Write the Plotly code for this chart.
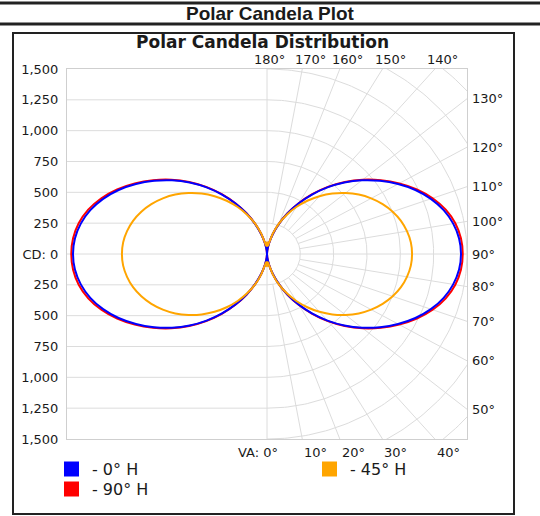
import numpy as np
import plotly.graph_objects as go

# ---------------- data ----------------
va_deg = list(range(0, 181, 5))  # vertical angles 0..180
cd_0h = [0, 29, 88, 166, 258, 362, 472, 588, 705, 820, 930, 1035, 1135, 1228, 1308, 1372, 1418, 1446, 1455,
         1446, 1418, 1372, 1308, 1228, 1135, 1035, 930, 820, 705, 588, 472, 362, 258, 166, 88, 29, 0]
cd_90h = [0, 30, 90, 168, 260, 364, 475, 592, 710, 826, 937, 1043, 1145, 1240, 1322, 1388, 1434, 1460, 1468,
          1460, 1434, 1388, 1322, 1240, 1145, 1043, 937, 826, 710, 592, 475, 364, 260, 168, 90, 30, 0]
cd_45h = [100, 65, 95, 175, 265, 352, 440, 527, 612, 693, 769, 840, 902, 957, 1003, 1040, 1066, 1083, 1088,
          1083, 1066, 1040, 1003, 957, 902, 840, 769, 693, 612, 527, 440, 352, 265, 175, 95, 65, 100]

series = [("- 90° H", cd_90h, "#ff0000"), ("- 0° H", cd_0h, "#0000ff"), ("- 45° H", cd_45h, "#ffa500")]

cd_ticks = [1500, 1250, 1000, 750, 500, 250, 0, -250, -500, -750, -1000, -1250, -1500]
cd_labels = ["1,500", "1,250", "1,000", "750", "500", "250", "CD: 0", "250", "500", "750", "1,000", "1,250", "1,500"]
top_angles = [180, 170, 160, 150, 140]
right_angles = [130, 120, 110, 100, 90, 80, 70, 60, 50]
bottom_angles = [0, 10, 20, 30, 40]
arc_radii = [250, 500, 750, 1000, 1250, 1500, 1750, 2000]
ray_angles = [10, 20, 30, 40, 50, 60, 70, 80, 100, 110, 120, 130, 140, 150, 160, 170]

RMAX = 1500
GRID = "#dcdcdc"
TXT = "#1a1a1a"
FONT = "DejaVu Sans"

fig = go.Figure()

# ---- polar grid (right half) ----
gx, gy = [], []
for r in arc_radii:
    t = np.radians(np.arange(0, 181, 1))
    gx += list(r * np.sin(t)) + [None]
    gy += list(-r * np.cos(t)) + [None]
for a in ray_angles:
    t = np.radians(a)
    gx += [250 * np.sin(t), 2300 * np.sin(t), None]
    gy += [-250 * np.cos(t), -2300 * np.cos(t), None]
fig.add_trace(go.Scatter(x=gx, y=gy, mode="lines", line=dict(color=GRID, width=1),
                         hoverinfo="skip", showlegend=False))

# ---- candela curves ----
for name, cd, col in series:
    t = np.radians(va_deg)
    cdv = np.array(cd, dtype=float)
    xr = cdv * np.sin(t)
    yr = -cdv * np.cos(t)
    x = list(xr) + list(-xr[::-1])
    y = list(yr) + list(yr[::-1])
    fig.add_trace(go.Scatter(x=x, y=y, mode="lines", name=name,
                             line=dict(color=col, width=2, shape="spline", smoothing=0.8),
                             showlegend=False))

shapes = []
# horizontal grid lines in the left half
for v in cd_ticks:
    if abs(v) < RMAX and v != 0:
        shapes.append(dict(type="line", xref="x", yref="y", x0=-RMAX, x1=0, y0=v, y1=v,
                           line=dict(color=GRID, width=1), layer="below"))
shapes.append(dict(type="line", xref="x", yref="y", x0=-RMAX, x1=RMAX, y0=0, y1=0,
                   line=dict(color=GRID, width=1), layer="below"))
shapes.append(dict(type="line", xref="x", yref="y", x0=0, x1=0, y0=-RMAX, y1=RMAX,
                   line=dict(color=GRID, width=1), layer="below"))

# page frame (pixel -> paper helpers)
L, R, T, B = 67, 73, 69, 77
W, H = 540, 516
PW, PH = W - L - R, H - T - B
def px(xp):
    return (xp - L) / PW
def py(yp):
    return (H - B - yp) / PH

shapes.append(dict(type="line", xref="paper", yref="paper", x0=px(0), x1=px(540), y0=py(3), y1=py(3),
                   line=dict(color="#222", width=3)))
shapes.append(dict(type="line", xref="paper", yref="paper", x0=px(0), x1=px(540), y0=py(24), y1=py(24),
                   line=dict(color="#222", width=3)))
shapes.append(dict(type="rect", xref="paper", yref="paper", x0=px(13), x1=px(514), y0=py(33), y1=py(514),
                   line=dict(color="#222", width=2)))

# legend squares
legend_items = [("- 0° H", "#0000ff", 64, 469), ("- 90° H", "#ff0000", 64, 489), ("- 45° H", "#ffa500", 322, 469)]
annotations = []
for text, col, lx, ly in legend_items:
    shapes.append(dict(type="rect", xref="paper", yref="paper", x0=px(lx), x1=px(lx + 15),
                       y0=py(ly - 7.5), y1=py(ly + 7.5), line=dict(width=0), fillcolor=col))
    annotations.append(dict(text=text, xref="paper", yref="paper", x=px(lx + 26), y=py(ly),
                            xanchor="left", yanchor="middle", showarrow=False,
                            font=dict(family=FONT, size=16, color=TXT)))

# titles
annotations.append(dict(text="<b>Polar Candela Plot</b>", xref="paper", yref="paper", x=px(270), y=py(14),
                        xanchor="center", yanchor="middle", showarrow=False,
                        font=dict(family="Liberation Sans", size=19, color="#1a1a1a")))
annotations.append(dict(text="<b>Polar Candela Distribution</b>", xref="paper", yref="paper", x=px(262), y=py(42),
                        xanchor="center", yanchor="middle", showarrow=False,
                        font=dict(family=FONT, size=17, color="#1a1a1a")))

lab_font = dict(family=FONT, size=13, color=TXT)
for a in top_angles:
    xv = RMAX * np.tan(np.radians(180 - a))
    annotations.append(dict(text=f"{a}°", xref="x", yref="paper", x=xv, y=1 + 10 / PH,
                            xanchor="center", yanchor="middle", xshift=2 if a == 180 else 8,
                            showarrow=False, font=lab_font))
for a in right_angles:
    yv = -RMAX * np.cos(np.radians(a)) / np.sin(np.radians(a))
    annotations.append(dict(text=f"{a}°", xref="paper", yref="y", x=1, y=yv,
                            xanchor="left", yanchor="middle", xshift=3,
                            showarrow=False, font=lab_font))
for a in bottom_angles:
    xv = RMAX * np.tan(np.radians(a))
    if a == 0:
        annotations.append(dict(text="VA: 0°", xref="x", yref="paper", x=xv, y=0,
                                xanchor="right", yanchor="top", xshift=13, yshift=-4,
                                showarrow=False, font=lab_font))
    else:
        annotations.append(dict(text=f"{a}°", xref="x", yref="paper", x=xv, y=0,
                                xanchor="left", yanchor="top", yshift=-4,
                                showarrow=False, font=lab_font))

fig.update_layout(
    width=W, height=H,
    margin=dict(l=L, r=R, t=T, b=B),
    paper_bgcolor="white", plot_bgcolor="white",
    showlegend=False,
    hovermode=False,
    shapes=shapes,
    annotations=annotations,
    xaxis=dict(range=[-RMAX, RMAX], showgrid=False, zeroline=False, showticklabels=False,
               showline=True, mirror=True, linecolor="#cfcfcf", linewidth=1, fixedrange=True),
    yaxis=dict(range=[-RMAX, RMAX], showgrid=False, zeroline=False,
               tickvals=cd_ticks, ticktext=cd_labels, tickfont=lab_font,
               ticks="outside", ticklen=5, tickcolor="rgba(0,0,0,0)",
               showline=True, mirror=True, linecolor="#cfcfcf", linewidth=1, fixedrange=True),
)

fig.write_html("out.html", config={"displayModeBar": False},
               post_script="document.body.style.margin='0px';document.body.style.overflow='hidden';")
